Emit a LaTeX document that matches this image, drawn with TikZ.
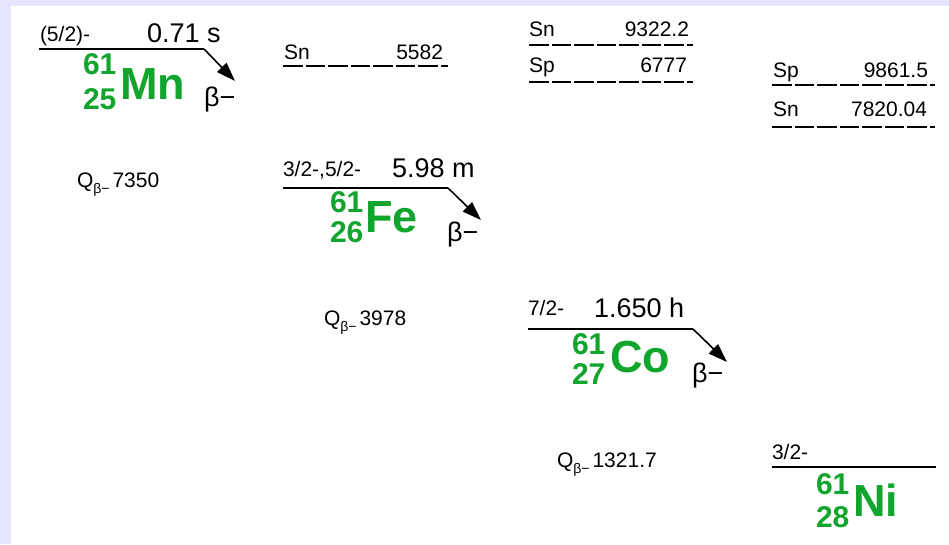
\documentclass[tikz,border=0pt]{standalone}
\usepackage{fontspec}
\setmainfont{Liberation Sans}
\usetikzlibrary{arrows.meta}
\definecolor{lav}{RGB}{228,228,252}
\definecolor{nucgreen}{RGB}{18,165,45}
\tikzset{
  txt/.style={anchor=base west,inner sep=0pt,outer sep=0pt,font=\fontsize{21}{21}\selectfont},
  txtr/.style={anchor=base east,inner sep=0pt,outer sep=0pt,font=\fontsize{21}{21}\selectfont},
  hl/.style={anchor=base west,inner sep=0pt,outer sep=0pt,font=\fontsize{27}{27}\selectfont},
  beta/.style={anchor=base west,inner sep=0pt,outer sep=0pt,font=\fontsize{27}{27}\selectfont},
  sym/.style={anchor=base west,inner sep=0pt,outer sep=0pt,text=nucgreen,font=\fontsize{45}{45}\selectfont\bfseries},
  num/.style={anchor=base west,inner sep=0pt,outer sep=0pt,text=nucgreen,font=\fontsize{30}{30}\selectfont\bfseries},
  level/.style={line width=2.7pt},
  sline/.style={line width=2.5pt,dash pattern=on 19.5pt off 3pt},
  decay/.style={line width=1.6pt,-{Triangle[length=19pt,width=13pt]}},
}
\newcommand{\qb}[1]{Q\raisebox{-6pt}{\fontsize{14}{14}\selectfont β−}\hspace{3pt}#1}
\begin{document}
\begin{tikzpicture}[x=1pt,y=-1pt]
\useasboundingbox (0,0) rectangle (949,544);
\fill[lav] (0,0) rectangle (949,544);
\fill[white] (11,6) rectangle (949,544);

% Mn
\coordinate (mnA) at (39,49);
\coordinate (mnB) at (204,49);
\coordinate (mnT) at (235,81);
\draw[level] (mnA) -- (mnB);
\draw[decay] (mnB) -- (mnT);
\node[txt] (mnspin) at (40,41) {(5/2)-};
\node[hl] (mnhl) at (147,42) {0.71 s};
\node[num] (mna) at (83,74) {61};
\node[num] (mnz) at (83,109) {25};
\node[sym] (mnsym) at (120,99) {Mn};
\node[beta] (mnbeta) at (204,106) {β−};
\node[txt] (mnq) at (77,187) {\qb{7350}};

% Fe S line
\coordinate (fsA) at (283,66);
\coordinate (fsB) at (448,66);
\draw[sline] (fsA) -- (fsB);
\node[txt] (fesnl) at (284,59) {Sn};
\node[txtr] (fesnv) at (443,59) {5582};

% Fe
\coordinate (feA) at (283,188);
\coordinate (feB) at (448,188);
\coordinate (feT) at (481,220);
\draw[level] (feA) -- (feB);
\draw[decay] (feB) -- (feT);
\node[txt] (fespin) at (283,176) {3/2-,5/2-};
\node[hl] (fehl) at (392,177) {5.98 m};
\node[num] (fea) at (330,212) {61};
\node[num] (fez) at (330,242) {26};
\node[sym] (fesym) at (365,232) {Fe};
\node[beta] (febeta) at (447,241) {β−};
\node[txt] (feq) at (324,325) {\qb{3978}};

% Co S lines
\coordinate (c1A) at (529,45);
\coordinate (c1B) at (693,45);
\draw[sline] (c1A) -- (c1B);
\node[txt] (cosnl) at (529,36) {Sn};
\node[txtr] (cosnv) at (689,36) {9322.2};
\coordinate (c2A) at (529,82);
\coordinate (c2B) at (693,82);
\draw[sline] (c2A) -- (c2B);
\node[txt] (cospl) at (529,72) {Sp};
\node[txtr] (cospv) at (687,72) {6777};

% Co
\coordinate (coA) at (528,329);
\coordinate (coB) at (693,329);
\coordinate (coT) at (727,362);
\draw[level] (coA) -- (coB);
\draw[decay] (coB) -- (coT);
\node[txt] (cospin) at (528,315) {7/2-};
\node[hl] (cohl) at (594,317) {1.650 h};
\node[num] (coa) at (572,354) {61};
\node[num] (coz) at (572,384) {27};
\node[sym] (cosym) at (610,372) {Co};
\node[beta] (cobeta) at (692,382) {β−};
\node[txt] (coq) at (557,467) {\qb{1321.7}};

% Ni S lines
\coordinate (n1A) at (772,85);
\coordinate (n1B) at (935,85);
\draw[sline] (n1A) -- (n1B);
\node[txt] (nispl) at (773,77) {Sp};
\node[txtr] (nispv) at (928,77) {9861.5};
\coordinate (n2A) at (772,127);
\coordinate (n2B) at (935,127);
\draw[sline] (n2A) -- (n2B);
\node[txt] (nisnl) at (773,116) {Sn};
\node[txtr] (nisnv) at (927,116) {7820.04};

% Ni
\coordinate (niA) at (772,467);
\coordinate (niB) at (936,467);
\draw[level] (niA) -- (niB);
\node[txt] (nispin) at (772,459) {3/2-};
\node[num] (nia) at (816,494) {61};
\node[num] (niz) at (816,527) {28};
\node[sym] (nisym) at (853,516) {Ni};
\end{tikzpicture}
\end{document}
